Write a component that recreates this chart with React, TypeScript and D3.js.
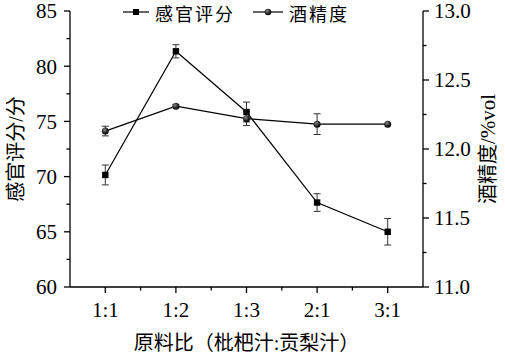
import React from "react";
import * as d3 from "d3";

const categories = ["1:1", "1:2", "1:3", "2:1", "3:1"];
const sensoryScore = [70.15, 81.35, 75.85, 67.65, 65.0];
const sensoryErr = [0.9, 0.6, 0.9, 0.8, 1.2];
const alcohol = [12.13, 12.31, 12.22, 12.18, 12.18];
const alcoholErr = [0.035, 0.01, 0.05, 0.075, 0.0];
const leftTicks = [60, 65, 70, 75, 80, 85];
const rightTicks = [11.0, 11.5, 12.0, 12.5, 13.0];

const W = 505;
const H = 355;
const M = { left: 70, right: 423, top: 11, bottom: 287 };
const FONT = "'Liberation Serif', 'Times New Roman', 'Noto Sans CJK SC', serif";
const CJK = "'Noto Sans CJK SC', 'Liberation Serif', serif";

export default function App() {
  const x = d3.scaleLinear().domain([0.5, 5.5]).range([M.left, M.right]);
  const yL = d3.scaleLinear().domain([60, 85]).range([M.bottom, M.top]);
  const yR = d3.scaleLinear().domain([11, 13]).range([M.bottom, M.top]);

  const lineL = d3
    .line<number>()
    .x((_, i) => x(i + 1))
    .y((d) => yL(d));
  const lineR = d3
    .line<number>()
    .x((_, i) => x(i + 1))
    .y((d) => yR(d));

  const leftMinor = d3.range(62.5, 85, 5);
  const rightMinor = d3.range(11.25, 13, 0.5);
  const bottomMinor = d3.range(1.5, 5.5, 1);

  const sw = 1.2;
  const fs = 21;

  return (
    <svg
      width={W}
      height={H}
      style={{ position: "absolute", left: 0, top: 0, background: "#fff" }}
    >
      <defs>
        <radialGradient id="ball" cx="0.4" cy="0.35" r="0.7">
          <stop offset="0" stopColor="#888" />
          <stop offset="0.6" stopColor="#222" />
          <stop offset="1" stopColor="#000" />
        </radialGradient>
      </defs>
      {/* axes */}
      <g stroke="#000" strokeWidth={1.3} fill="none">
        <line x1={M.left} x2={M.left} y1={M.top} y2={M.bottom} />
        <line x1={M.right} x2={M.right} y1={M.top} y2={M.bottom} />
        <line x1={M.left} x2={M.right} y1={M.bottom} y2={M.bottom} />
        {leftTicks.map((t) => (
          <line key={"lt" + t} x1={M.left - 6} x2={M.left} y1={yL(t)} y2={yL(t)} />
        ))}
        {leftMinor.map((t) => (
          <line key={"lm" + t} x1={M.left - 3.5} x2={M.left} y1={yL(t)} y2={yL(t)} />
        ))}
        {rightTicks.map((t) => (
          <line key={"rt" + t} x1={M.right} x2={M.right + 6} y1={yR(t)} y2={yR(t)} />
        ))}
        {rightMinor.map((t) => (
          <line key={"rm" + t} x1={M.right} x2={M.right + 3.5} y1={yR(t)} y2={yR(t)} />
        ))}
        {categories.map((c, i) => (
          <line key={"bt" + c} x1={x(i + 1)} x2={x(i + 1)} y1={M.bottom} y2={M.bottom + 6} />
        ))}
        {bottomMinor.map((t) => (
          <line key={"bm" + t} x1={x(t)} x2={x(t)} y1={M.bottom} y2={M.bottom + 3.5} />
        ))}
      </g>
      {/* tick labels */}
      <g fontFamily={FONT} fontSize={fs} fill="#000">
        {leftTicks.map((t) => (
          <text key={"ll" + t} x={M.left - 13} y={yL(t)} dy="0.35em" textAnchor="end">
            {t}
          </text>
        ))}
        {rightTicks.map((t) => (
          <text key={"rl" + t} x={M.right + 11} y={yR(t)} dy="0.35em" textAnchor="start">
            {t.toFixed(1)}
          </text>
        ))}
        {categories.map((c, i) => (
          <text key={"bl" + c} x={x(i + 1)} y={M.bottom + 30} textAnchor="middle">
            {c}
          </text>
        ))}
      </g>
      {/* axis titles */}
      <g fontFamily={CJK} fontSize={20} fill="#000">
        <text
          transform={`translate(${23},${(M.top + M.bottom) / 2}) rotate(-90)`}
          textAnchor="middle"
        >
          感官评分<tspan fontFamily={FONT}>/</tspan>分
        </text>
        <text
          transform={`translate(${495},${(M.top + M.bottom) / 2}) rotate(-90)`}
          textAnchor="middle"
        >
          酒精度<tspan fontFamily={FONT} fontSize={21}>/%vol</tspan>
        </text>
        <text x={(M.left + M.right) / 2} y={350} textAnchor="middle">
          原料比（枇杷汁<tspan fontFamily={FONT}>:</tspan>贡梨汁）
        </text>
      </g>
      {/* lines */}
      <path d={lineL(sensoryScore) || ""} fill="none" stroke="#000" strokeWidth={sw} />
      <path d={lineR(alcohol) || ""} fill="none" stroke="#000" strokeWidth={sw} />
      {/* error bars */}
      <g stroke="#333" strokeWidth={1}>
        {sensoryScore.map((v, i) => (
          <g key={"se" + i}>
            <line x1={x(i + 1)} x2={x(i + 1)} y1={yL(v - sensoryErr[i])} y2={yL(v + sensoryErr[i])} />
            <line x1={x(i + 1) - 3.5} x2={x(i + 1) + 3.5} y1={yL(v - sensoryErr[i])} y2={yL(v - sensoryErr[i])} />
            <line x1={x(i + 1) - 3.5} x2={x(i + 1) + 3.5} y1={yL(v + sensoryErr[i])} y2={yL(v + sensoryErr[i])} />
          </g>
        ))}
        {alcohol.map((v, i) =>
          alcoholErr[i] > 0 ? (
            <g key={"ae" + i}>
              <line x1={x(i + 1)} x2={x(i + 1)} y1={yR(v - alcoholErr[i])} y2={yR(v + alcoholErr[i])} />
              <line x1={x(i + 1) - 3.5} x2={x(i + 1) + 3.5} y1={yR(v - alcoholErr[i])} y2={yR(v - alcoholErr[i])} />
              <line x1={x(i + 1) - 3.5} x2={x(i + 1) + 3.5} y1={yR(v + alcoholErr[i])} y2={yR(v + alcoholErr[i])} />
            </g>
          ) : null
        )}
      </g>
      {/* markers */}
      {sensoryScore.map((v, i) => (
        <rect key={"sq" + i} x={x(i + 1) - 3.2} y={yL(v) - 3.2} width={6.4} height={6.4} fill="#000" />
      ))}
      {alcohol.map((v, i) => (
        <circle key={"ci" + i} cx={x(i + 1)} cy={yR(v)} r={3.5} fill="url(#ball)" />
      ))}
      {/* legend */}
      <g>
        <line x1={123} x2={149} y1={12} y2={12} stroke="#000" strokeWidth={sw} />
        <rect x={136 - 3} y={12 - 3} width={6} height={6} fill="#000" />
        <text x={155} y={21} fontFamily={CJK} fontSize={18} fill="#000" letterSpacing={2}>
          感官评分
        </text>
        <line x1={253} x2={283} y1={12} y2={12} stroke="#000" strokeWidth={sw} />
        <circle cx={268} cy={12} r={3.3} fill="url(#ball)" />
        <text x={289} y={21} fontFamily={CJK} fontSize={18} fill="#000" letterSpacing={2}>
          酒精度
        </text>
      </g>
    </svg>
  );
}
